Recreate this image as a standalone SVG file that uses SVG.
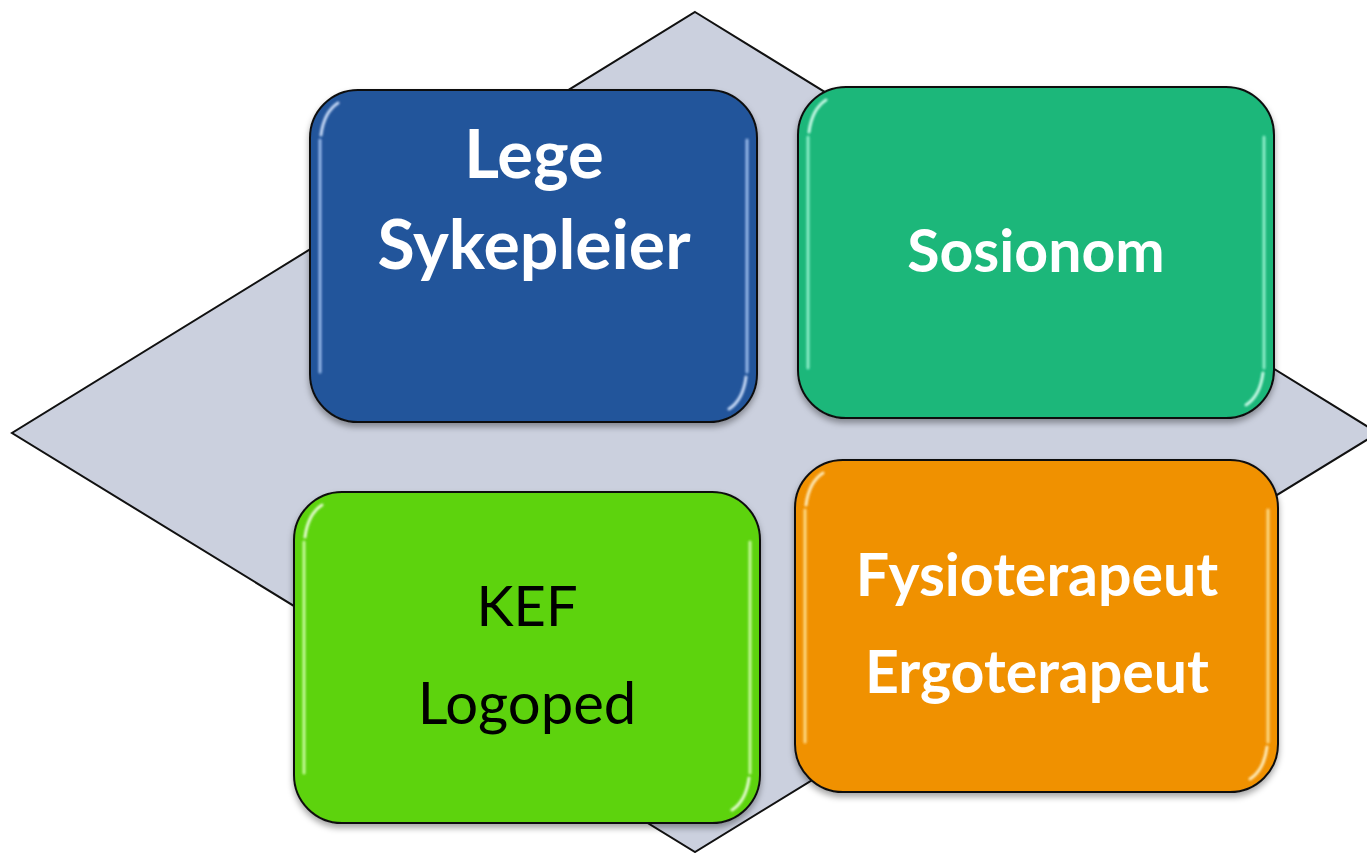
<svg xmlns="http://www.w3.org/2000/svg" width="1367" height="853" viewBox="0 0 1367 853">
<defs>
<filter id="sh" x="-10%" y="-10%" width="120%" height="125%">
<feDropShadow dx="0" dy="4" stdDeviation="3" flood-color="#000" flood-opacity="0.35"/>
</filter>
<filter id="bl" x="-20%" y="-20%" width="140%" height="140%">
<feGaussianBlur stdDeviation="1.2"/>
</filter>
</defs>
<style>
.box{stroke:#111;stroke-width:2}
.hl{fill:none;stroke-width:3;stroke-linecap:round;filter:url(#bl)}
.wb{font-family:Lato,"Open Sans",sans-serif;font-weight:700;fill:#fff;text-anchor:middle}
.kb{font-family:Lato,"Open Sans",sans-serif;font-weight:400;fill:#000;text-anchor:middle}
</style>
<rect width="1367" height="853" fill="#fff"/>
<polygon id="diamond" points="695,12 1378,433 695,852 12,433" fill="#cbd0de" stroke="#111" stroke-width="2"/>
<g id="connectors"></g>
<g id="lege" filter="url(#sh)">
<rect class="box" x="310" y="90" width="447" height="332" rx="48" fill="#23559b"/>
<path class="hl" d="M320,140 V372 M747,140 V372" stroke="#a9c8f5" opacity="0.85"/>
<path class="hl" d="M321,135 Q324,112 338,103 M746,377 Q743,400 729,409" stroke="#d6e6ff" opacity="0.9"/>
<text class="wb" x="534" y="178" font-size="67">Lege</text>
<text class="wb" x="534" y="269" font-size="68">Sykepleier</text>
</g>
<g id="sosionom" filter="url(#sh)">
<rect class="box" x="798" y="87" width="476" height="331" rx="48" fill="#1bb77a"/>
<path class="hl" d="M808,137 V368 M1264,137 V368" stroke="#9ff5d5" opacity="0.85"/>
<path class="hl" d="M809,132 Q812,109 826,100 M1263,373 Q1260,396 1246,405" stroke="#d8fff0" opacity="0.9"/>
<text class="wb" x="1036" y="272" font-size="59">Sosionom</text>
</g>
<g id="kef" filter="url(#sh)">
<rect class="box" x="294" y="492" width="466" height="331" rx="48" fill="#5dd30f"/>
<path class="hl" d="M304,542 V773 M750,542 V773" stroke="#d6ffb0" opacity="0.85"/>
<path class="hl" d="M305,537 Q308,514 322,505 M749,778 Q746,801 732,810" stroke="#f0ffe0" opacity="0.9"/>
<text class="kb" x="527" y="626" font-size="56">KEF</text>
<text class="kb" x="527" y="724" font-size="58">Logoped</text>
</g>
<g id="fysio" filter="url(#sh)">
<rect class="box" x="795" y="460" width="483" height="332" rx="48" fill="#f09103"/>
<path class="hl" d="M805,510 V742 M1268,510 V742" stroke="#ffe59a" opacity="0.85"/>
<path class="hl" d="M806,505 Q809,482 823,473 M1267,747 Q1264,770 1250,779" stroke="#fff3c8" opacity="0.9"/>
<text class="wb" x="1037" y="596" font-size="59">Fysioterapeut</text>
<text class="wb" x="1037" y="693" font-size="59">Ergoterapeut</text>
</g>
</svg>
